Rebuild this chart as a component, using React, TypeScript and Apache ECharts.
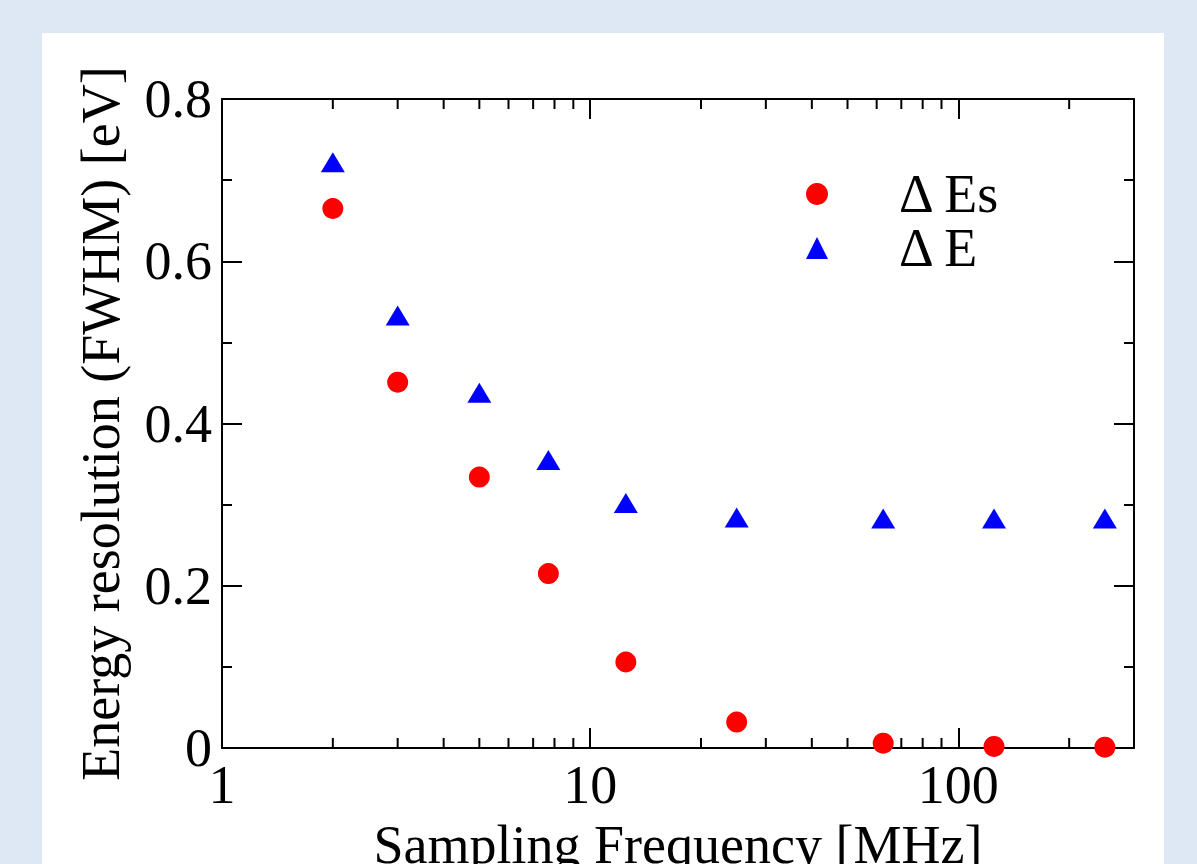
import React, { useEffect, useRef } from "react";
import * as echarts from "echarts";

const frequencies = [2, 3, 5, 7.7, 12.5, 25, 62.5, 125, 250];
const deltaEs = [0.665, 0.451, 0.334, 0.215, 0.106, 0.032, 0.006, 0.002, 0.001];
const deltaE = [0.722, 0.533, 0.438, 0.355, 0.302, 0.284, 0.283, 0.283, 0.283];
const xMinorTicks = [2, 3, 4, 5, 6, 7, 8, 9, 20, 30, 40, 50, 60, 70, 80, 90, 200];
const xMajorLabels = [1, 10, 100];
const seriesNames = ["Δ Es", "Δ E"];

const FONT = "'Liberation Serif', 'Times New Roman', serif";

export default function App() {
  const ref = useRef<HTMLDivElement>(null);

  useEffect(() => {
    if (!ref.current) return;
    const chart = echarts.init(ref.current, null, { renderer: "svg" });
    const axisLine = { show: true, onZero: false, lineStyle: { color: "#000", width: 2 } };
    const tickStyle = { color: "#000", width: 2 };
    const isMajor = (v: number) =>
      xMajorLabels.some((m) => Math.abs(v - m) / m < 1e-6);

    chart.setOption({
      animation: false,
      backgroundColor: "transparent",
      grid: {
        left: 222,
        top: 99,
        width: 912,
        height: 649,
        containLabel: false,
        outerBoundsMode: "none",
      },
      legend: {
        orient: "vertical",
        left: 806,
        top: 167,
        padding: 0,
        itemWidth: 22,
        itemHeight: 22,
        itemGap: 0,
        data: seriesNames,
        textStyle: {
          fontFamily: FONT,
          fontSize: 54,
          color: "#000",
          padding: [0, 0, 0, 66],
        },
      },
      xAxis: [
        {
          type: "log",
          logBase: 10,
          min: 1,
          max: 300,
          position: "bottom",
          name: "Sampling Frequency [MHz]",
          nameLocation: "middle",
          nameGap: 70,
          nameTextStyle: { fontFamily: FONT, fontSize: 54, color: "#000" },
          axisLine,
          axisTick: { show: true, inside: true, length: 20, lineStyle: tickStyle },
          axisLabel: {
            fontFamily: FONT,
            fontSize: 54,
            color: "#000",
            margin: 10,
            showMaxLabel: false,
            formatter: (v: number) => (isMajor(v) ? String(Math.round(v)) : ""),
          },
          splitLine: { show: false },
        },
        {
          type: "log",
          logBase: 10,
          min: 1,
          max: 300,
          position: "top",
          axisLine,
          axisTick: { show: true, inside: true, length: 20, lineStyle: tickStyle },
          axisLabel: { show: false },
          splitLine: { show: false },
        },
      ],
      yAxis: [
        {
          type: "value",
          min: 0,
          max: 0.8,
          interval: 0.2,
          position: "left",
          name: "Energy resolution (FWHM) [eV]",
          nameLocation: "middle",
          nameGap: 94,
          nameTextStyle: { fontFamily: FONT, fontSize: 54, color: "#000" },
          axisLine,
          axisTick: { show: true, inside: true, length: 20, lineStyle: tickStyle },
          minorTick: { show: true, splitNumber: 2, length: 10, lineStyle: tickStyle },
          axisLabel: {
            fontFamily: FONT,
            fontSize: 54,
            color: "#000",
            margin: 10,
            formatter: (v: number) => (v === 0 ? "0" : v.toFixed(1)),
          },
          splitLine: { show: false },
          minorSplitLine: { show: false },
        },
        {
          type: "value",
          min: 0,
          max: 0.8,
          interval: 0.2,
          position: "right",
          axisLine,
          axisTick: { show: true, inside: true, length: 20, lineStyle: tickStyle },
          minorTick: { show: true, splitNumber: 2, length: 10, lineStyle: tickStyle },
          axisLabel: { show: false },
          splitLine: { show: false },
          minorSplitLine: { show: false },
        },
      ],
      series: [
        {
          name: seriesNames[0],
          type: "scatter",
          xAxisIndex: 0,
          yAxisIndex: 0,
          symbol: "circle",
          symbolSize: 21,
          itemStyle: { color: "#ff0000", opacity: 1 },
          data: frequencies.map((f, i) => [f, deltaEs[i]]),
          z: 5,
        },
        {
          name: seriesNames[1],
          type: "scatter",
          xAxisIndex: 0,
          yAxisIndex: 0,
          symbol: "triangle",
          symbolSize: [24, 20],
          itemStyle: { color: "#0000ff", opacity: 1 },
          data: frequencies.map((f, i) => [f, deltaE[i]]),
          z: 5,
        },
        {
          name: "minorTicks",
          type: "custom",
          xAxisIndex: 0,
          yAxisIndex: 0,
          silent: true,
          data: xMinorTicks.map((v) => [v, 0]),
          encode: { x: 0, y: 1 },
          renderItem: (params: any, api: any) => {
            const v = api.value(0);
            const pb = api.coord([v, 0]);
            const pt = api.coord([v, 0.8]);
            return {
              type: "group",
              children: [
                {
                  type: "line",
                  shape: { x1: pb[0], y1: pb[1], x2: pb[0], y2: pb[1] - 10 },
                  style: { stroke: "#000", lineWidth: 2 },
                },
                {
                  type: "line",
                  shape: { x1: pt[0], y1: pt[1], x2: pt[0], y2: pt[1] + 10 },
                  style: { stroke: "#000", lineWidth: 2 },
                },
              ],
            };
          },
          z: 3,
        },
      ],
    });
    return () => chart.dispose();
  }, []);

  return (
    <div
      style={{
        position: "fixed",
        left: 0,
        top: 0,
        width: 1197,
        height: 864,
        background: "#dde8f4",
        overflow: "hidden",
      }}
    >
      <div
        style={{
          position: "absolute",
          left: 42,
          top: 33,
          width: 1122,
          height: 831,
          background: "#ffffff",
        }}
      />
      <div
        ref={ref}
        style={{ position: "absolute", left: 0, top: 0, width: 1197, height: 864 }}
      />
    </div>
  );
}
